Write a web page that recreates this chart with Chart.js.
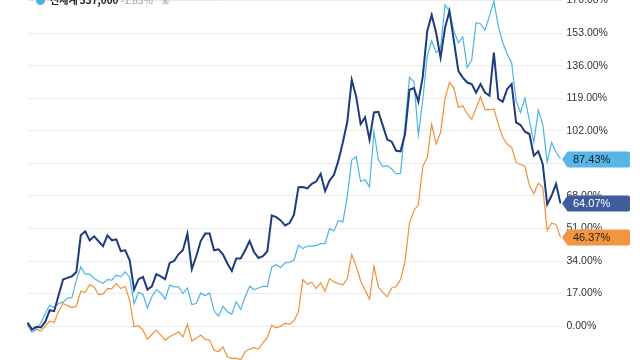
<!DOCTYPE html>
<html>
<head>
<meta charset="utf-8">
<script src="https://cdn.jsdelivr.net/npm/chart.js@4"></script>
<style>
  html, body { margin:0; padding:0; background:#fff; overflow:hidden; }
  #wrap { position:absolute; left:0; top:0; width:640px; height:360px; }
  #legend { position:absolute; left:36px; top:-6px; height:12px; line-height:12px; font-size:10px;
            font-family:'Noto Sans CJK KR','Liberation Sans',sans-serif; white-space:nowrap; color:#222; }
  #legend .dot { display:inline-block; width:9px; height:9px; border-radius:50%; background:#4db3e6; margin-right:5px; vertical-align:-1px; }
  #legend b { font-weight:700; }
  #legend .chg { color:#9a9a9a; }
  #legend .x { display:inline-block; width:9px; height:9px; border-radius:50%; background:#e2e2e2; color:#999; font-size:8px; line-height:9px; text-align:center; margin-left:8px; }
  #topline { position:absolute; left:27px; top:0; width:190px; height:1px; background:#e9e9e9; }
</style>
</head>
<body>
<div id="wrap"><canvas id="c" width="640" height="360"></canvas></div>
<div id="topline"></div>
<div id="legend"><span class="dot"></span><b>신세계</b> <b>337,000</b> <span class="chg">-1.83%</span><span class="x">×</span></div>
<script>
// Series values (% change)
const seriesNavy = [1.8,-1.7,-0.4,-0.7,2.2,8.3,7.8,16.1,24.3,25.2,26.0,28.3,47.4,49.5,44.8,46.9,44.3,41.8,47.4,44.8,45.3,39.2,39.6,34.4,19.1,24.5,25.7,19.1,20.8,27.1,26.0,24.5,33.0,34.0,37.5,39.8,48.3,29.8,36.5,44.4,48.3,48.3,39.6,40.1,37.5,32.7,28.8,35.3,35.3,39.6,44.4,38.7,35.6,36.5,39.1,57.8,56.9,55.2,52.6,53.8,58.2,72.5,72.6,71.9,74.3,75.5,79.5,70.5,76.0,79.0,86.4,96.0,106.7,128.6,119.8,105.5,109.0,97.4,111.6,111.9,104.7,97.4,96.3,91.6,91.3,100.3,123.4,124.3,117.2,130.4,154.1,162.5,153.2,140.2,155.8,164.5,148.9,133.3,129.8,127.2,126.4,122.0,126.4,122.0,120.3,142.8,118.6,117.2,123.8,126.4,106.4,105.0,101.5,100.3,89.0,91.3,84.7,63.5,68.2,74.3,64.07];
const seriesSky = [1.4,-3.0,-1.6,1.6,6.6,10.9,9.7,11.8,12.5,14.6,14.9,24.0,30.9,27.1,27.1,25.0,23.4,22.4,24.3,24.0,26.6,25.7,28.3,25.4,11.8,17.6,16.5,9.5,15.3,19.1,17.3,14.1,21.4,20.5,20.5,17.0,19.9,11.3,11.8,17.3,15.8,17.3,8.0,5.2,10.4,7.5,6.3,12.7,8.7,15.3,20.8,19.1,19.9,20.8,20.8,30.9,32.1,30.6,33.0,33.2,34.4,42.2,40.5,41.8,41.8,42.2,43.1,43.2,50.9,49.7,55.2,54.4,67.7,86.7,88.5,75.5,76.4,72.7,101.5,86.8,83.3,83.8,82.1,79.5,79.8,104.7,129.9,127.6,99.9,118.2,141.1,148.9,142.8,145.4,167.7,164.5,154.1,148.0,151.0,135.0,138.9,158.4,157.9,154.5,161.9,169.7,156.7,148.0,142.0,137.6,117.7,111.6,119.1,107.3,96.0,112.8,105.5,85.6,96.0,90.8,87.43];
const seriesOrange = [0.5,-3.1,-1.7,-2.6,0.0,2.6,1.9,7.8,11.8,10.7,9.7,10.4,18.2,17.6,21.7,20.5,16.5,16.7,19.6,19.6,22.2,19.6,20.8,13.5,-0.4,0.2,-2.1,-6.9,-4.4,-2.1,-4.7,-7.3,-5.6,-4.4,-3.0,-5.6,0.9,-7.8,-6.4,-4.7,-6.9,-7.3,-12.5,-13.4,-10.8,-16.0,-16.8,-16.8,-17.6,-13.4,-12.0,-11.3,-12.0,-8.7,-5.9,0.5,-0.9,0.0,1.4,1.0,2.8,7.5,24.3,21.9,22.9,19.6,22.6,18.2,24.8,23.1,22.2,21.6,24.8,37.4,31.2,23.7,18.7,14.0,31.3,20.3,17.6,15.3,19.9,20.5,24.5,33.8,53.7,60.4,63.5,83.3,88.0,105.3,95.1,101.2,118.8,127.2,124.3,114.2,115.1,110.8,108.1,113.7,119.8,113.0,113.0,113.4,105.5,98.6,95.1,93.4,85.6,84.4,83.5,73.4,69.1,74.6,72.5,50.0,53.8,53.1,46.37];
const categories = seriesNavy.map((_, i) => 'W' + (i + 1));
const yTicks = [0, 17, 34, 51, 68, 85, 102, 119, 136, 153, 170];
const seriesNames = ['Series B', '신세계', 'Series C'];

const colors = { navy:'#1f3b7c', sky:'#4db3e6', orange:'#f0913a' };
const boxColors = ['#3e5c9e', '#57b6e8', '#f1953f'];
const boxText = ['#ffffff', '#1a1a1a', '#222222'];

const endLabels = {
  id: 'endLabels',
  afterDraw(chart) {
    const ctx = chart.ctx;
    const y = chart.scales.y;
    const tip = 562, base = 567.5, right = 630, h = 8;
    chart.data.datasets.forEach((ds, i) => {
      const v = ds.data[ds.data.length - 1];
      const py = Math.round(y.getPixelForValue(v)) + 0.5;
      ctx.save();
      ctx.beginPath();
      ctx.moveTo(tip, py);
      ctx.lineTo(base, py - h);
      ctx.lineTo(right - 2, py - h);
      ctx.quadraticCurveTo(right, py - h, right, py - h + 2);
      ctx.lineTo(right, py + h - 2);
      ctx.quadraticCurveTo(right, py + h, right - 2, py + h);
      ctx.lineTo(base, py + h);
      ctx.closePath();
      ctx.fillStyle = boxColors[i];
      ctx.fill();
      ctx.fillStyle = boxText[i];
      ctx.font = '11px "Liberation Sans", Arial, sans-serif';
      ctx.textBaseline = 'middle';
      ctx.textAlign = 'left';
      ctx.fillText(v.toFixed(2) + '%', 573, py + 0.5);
      ctx.restore();
    });
  }
};

new Chart(document.getElementById('c'), {
  type: 'line',
  data: {
    labels: categories,
    datasets: [
      { label: seriesNames[0], data: seriesNavy, borderColor: colors.navy, borderWidth: 2, pointRadius: 0, tension: 0 },
      { label: seriesNames[1], data: seriesSky, borderColor: colors.sky, borderWidth: 1.2, pointRadius: 0, tension: 0 },
      { label: seriesNames[2], data: seriesOrange, borderColor: colors.orange, borderWidth: 1.2, pointRadius: 0, tension: 0 }
    ]
  },
  options: {
    responsive: false,
    animation: false,
    layout: { padding: { left: 27.5, top: 0, bottom: 0, right: 0 } },
    plugins: { legend: { display: false }, tooltip: { enabled: false } },
    scales: {
      x: { display: false, offset: false },
      y: {
        position: 'right',
        min: -17.7,
        max: 170.3,
        afterBuildTicks(scale) { scale.ticks = yTicks.map(v => ({ value: v })); },
        afterFit(scale) { scale.width = 79.5; scale.paddingTop = 0; scale.paddingBottom = 0; },
        border: { display: false },
        grid: { color: '#ececec', lineWidth: 1, drawTicks: true, tickLength: 2 },
        ticks: {
          padding: 4,
          color: '#333',
          font: { family: '"Liberation Sans", Arial, sans-serif', size: 10.5 },
          callback: v => Number(v).toFixed(2) + '%'
        }
      }
    }
  },
  plugins: [endLabels]
});
</script>
</body>
</html>
